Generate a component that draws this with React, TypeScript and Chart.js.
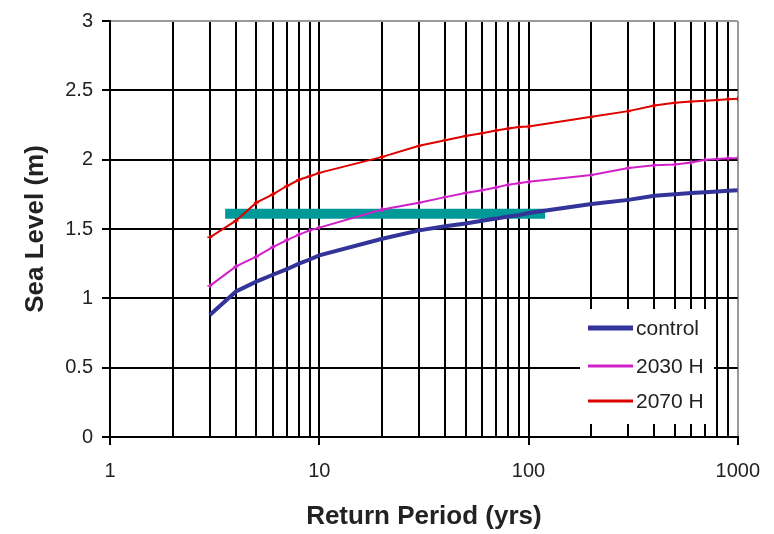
import { useEffect, useRef } from "react";
import { Chart, registerables } from "chart.js";

Chart.register(...registerables);

const returnPeriods = [3, 4, 5, 6, 7, 8, 9, 10, 20, 30, 40, 50, 60, 70, 80, 90, 100, 200, 300, 400, 500, 600, 700, 800, 900, 1000];
const controlLevels = [0.88, 1.05, 1.12, 1.17, 1.21, 1.25, 1.28, 1.31, 1.43, 1.49, 1.52, 1.54, 1.56, 1.575, 1.59, 1.6, 1.615, 1.68, 1.71, 1.74, 1.75, 1.76, 1.765, 1.77, 1.775, 1.78];
const levels2030H = [1.09, 1.23, 1.3, 1.37, 1.42, 1.46, 1.49, 1.51, 1.64, 1.69, 1.73, 1.76, 1.78, 1.8, 1.82, 1.83, 1.84, 1.89, 1.94, 1.96, 1.965, 1.98, 2.0, 2.005, 2.01, 2.01];
const levels2070H = [1.44, 1.56, 1.69, 1.75, 1.81, 1.855, 1.88, 1.905, 2.02, 2.1, 2.14, 2.17, 2.19, 2.21, 2.225, 2.235, 2.24, 2.31, 2.35, 2.39, 2.41, 2.42, 2.425, 2.43, 2.435, 2.44];
const thresholdPeriods = [3.55, 120];
const thresholdLevel = 1.61;

const seriesLabels = ["control", "2030 H", "2070 H"];
const xGridValues = [1, 2, 3, 4, 5, 6, 7, 8, 9, 10, 20, 30, 40, 50, 60, 70, 80, 90, 100, 200, 300, 400, 500, 600, 700, 800, 900, 1000];
const xLabelValues = [1, 10, 100, 1000];
const yMin = 0;
const yMax = 3;
const yStep = 0.5;

const FONT = '"Liberation Sans", Arial, sans-serif';

const legendPlugin = {
  id: "insideLegend",
  afterDraw(chart: any) {
    const ctx = chart.ctx;
    const rows = [328, 366, 401];
    ctx.save();
    ctx.fillStyle = "#ffffff";
    ctx.fillRect(580, 309, 134, 115);
    const items = chart.data.datasets.filter((d: any) => d.showInLegend);
    items.forEach((ds: any, i: number) => {
      const y = rows[i];
      ctx.strokeStyle = ds.borderColor;
      ctx.lineWidth = ds.legendLineWidth;
      ctx.beginPath();
      ctx.moveTo(588, y);
      ctx.lineTo(633, y);
      ctx.stroke();
      ctx.fillStyle = "#222222";
      ctx.font = `21px ${FONT}`;
      ctx.textBaseline = "middle";
      ctx.textAlign = "left";
      ctx.fillText(ds.label, 636, y + 1);
    });
    ctx.restore();
  },
};

export default function App() {
  const ref = useRef<HTMLCanvasElement | null>(null);

  useEffect(() => {
    if (!ref.current) return;
    const toXY = (ys: number[]) => returnPeriods.map((x, i) => ({ x, y: ys[i] }));
    const chart = new Chart(ref.current, {
      type: "line",
      data: {
        datasets: [
          {
            label: seriesLabels[0],
            data: toXY(controlLevels),
            borderColor: "#333399",
            backgroundColor: "#333399",
            borderWidth: 4,
            pointRadius: 0,
            showInLegend: true,
            legendLineWidth: 5,
          } as any,
          {
            label: seriesLabels[1],
            data: toXY(levels2030H),
            borderColor: "#D020C8",
            backgroundColor: "#D020C8",
            borderWidth: 2,
            pointStyle: "cross",
            pointRadius: 2.5,
            pointBorderWidth: 1.5,
            showInLegend: true,
            legendLineWidth: 3,
          } as any,
          {
            label: seriesLabels[2],
            data: toXY(levels2070H),
            borderColor: "#DD0000",
            backgroundColor: "#DD0000",
            borderWidth: 2,
            pointStyle: "cross",
            pointRadius: 2.5,
            pointBorderWidth: 1.5,
            showInLegend: true,
            legendLineWidth: 3,
          } as any,
          {
            label: "threshold",
            data: thresholdPeriods.map((x) => ({ x, y: thresholdLevel })),
            borderColor: "#009999",
            borderWidth: 10,
            borderCapStyle: "butt",
            pointRadius: 0,
            showInLegend: false,
          } as any,
        ],
      },
      options: {
        animation: false,
        responsive: false,
        devicePixelRatio: 1,
        layout: { padding: { top: 17, right: 34, left: 0, bottom: 0 } },
        plugins: {
          legend: { display: false },
          tooltip: { enabled: false },
        },
        scales: {
          x: {
            type: "logarithmic",
            min: 1,
            max: 1000,
            afterBuildTicks: (scale: any) => {
              scale.ticks = xGridValues.map((v) => ({ value: v, major: false }));
            },
            afterFit: (scale: any) => {
              scale.height = 97;
            },
            ticks: {
              autoSkip: false,
              maxRotation: 0,
              padding: 14,
              color: "#222222",
              font: { family: FONT, size: 20 },
              callback: (value: any) => (xLabelValues.includes(Number(value)) ? String(value) : ""),
            },
            grid: {
              color: (c: any) => (c.tick && c.tick.value === 1000 ? "#999999" : "#000000"),
              lineWidth: 2,
              tickLength: 8,
              tickColor: (c: any) => (c.tick && xLabelValues.includes(c.tick.value) ? "#000000" : "rgba(0,0,0,0)"),
              tickWidth: 2,
            },
            border: { color: "#000000", width: 2 },
            title: {
              display: true,
              text: "Return Period (yrs)",
              color: "#222222",
              font: { family: FONT, size: 26, weight: "bold" },
              padding: { top: 2, bottom: 2 },
            },
          },
          y: {
            type: "linear",
            min: yMin,
            max: yMax,
            afterFit: (scale: any) => {
              scale.width = 110;
            },
            ticks: {
              stepSize: yStep,
              padding: 9,
              color: "#222222",
              font: { family: FONT, size: 20 },
              callback: (value: any) => String(value),
            },
            grid: {
              color: (c: any) => (c.tick && c.tick.value === 3 ? "#999999" : "#000000"),
              lineWidth: 2,
              tickLength: 8,
              tickColor: "#000000",
              tickWidth: 2,
            },
            border: { color: "#000000", width: 2 },
            title: {
              display: true,
              text: "Sea Level (m)",
              color: "#222222",
              font: { family: FONT, size: 26, weight: "bold" },
              padding: { top: 20, bottom: 20 },
            },
          },
        },
      } as any,
      plugins: [legendPlugin],
    });
    return () => chart.destroy();
  }, []);

  return (
    <div style={{ position: "absolute", left: 0, top: 0, width: 774, height: 534, background: "#fff" }}>
      <canvas ref={ref} width={774} height={534} style={{ width: 774, height: 534, display: "block" }} />
    </div>
  );
}
